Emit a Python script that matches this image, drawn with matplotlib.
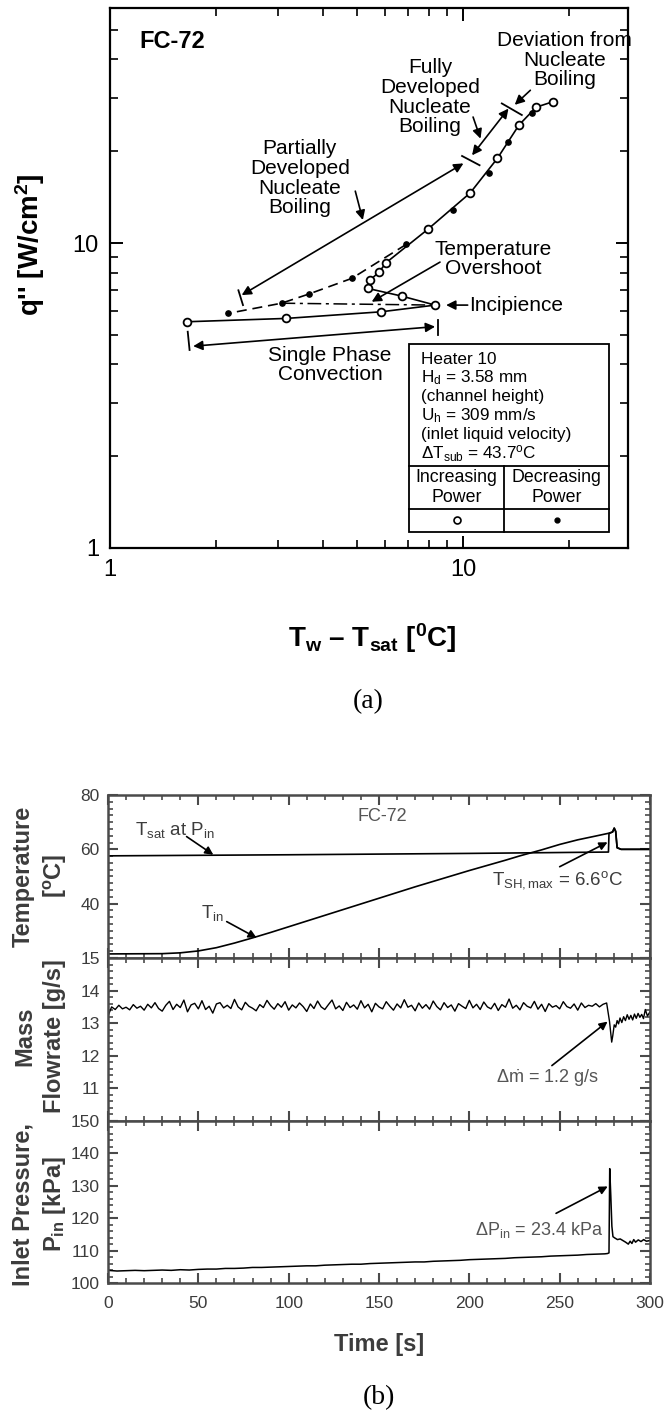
import numpy as np
import matplotlib
matplotlib.use('Agg')
import matplotlib.pyplot as plt
from matplotlib.patches import Rectangle
from matplotlib.ticker import MultipleLocator, FixedLocator, NullFormatter, LogLocator

plt.rcParams['font.family'] = ['Liberation Sans', 'DejaVu Sans']
plt.rcParams['mathtext.fontset'] = 'custom'
plt.rcParams['mathtext.rm'] = 'Liberation Sans'
plt.rcParams['mathtext.it'] = 'Liberation Sans:italic'
plt.rcParams['mathtext.bf'] = 'Liberation Sans:bold'
NARROW = ['Liberation Sans Narrow', 'Liberation Sans', 'DejaVu Sans']

# ---- (a) boiling curve, FC-72, heater 10 ----
inc_x = [1.65, 3.15, 5.85, 8.33, 6.70, 5.37, 5.45, 5.79, 6.05, 7.94, 10.47, 12.5, 14.4, 16.1, 18.0]
inc_y = [5.52, 5.66, 5.95, 6.26, 6.70, 7.10, 7.56, 8.05, 8.62, 11.09, 14.6, 18.95, 24.4, 27.9, 29.1]
dec_x = [15.65, 13.4, 11.8, 9.35, 6.90, 4.84, 3.65, 3.06, 2.16]
dec_y = [26.6, 21.5, 17.0, 12.8, 9.9, 7.66, 6.80, 6.35, 5.88]
dashdot_x = [3.06, 8.33]
dashdot_y = [6.35, 6.26]

# ---- (b) transient at incipience ----
t_temp = [0, 30, 40, 50, 60, 70, 80, 90, 100, 110, 120, 130, 140, 150, 160, 170, 180, 190,
          200, 210, 220, 228, 240, 250, 260, 270, 277, 278.5, 279.3, 280.2, 281.0, 281.8, 284, 300]
T_in = [21.5, 21.6, 21.9, 22.6, 23.8, 25.5, 27.4, 29.4, 31.5, 33.6, 35.7, 37.8, 39.9, 42.0, 44.1,
        46.2, 48.2, 50.2, 52.2, 54.1, 56.0, 57.6, 59.8, 61.8, 63.5, 64.9, 65.9, 66.2, 66.4, 67.8,
        66.6, 60.6, 60.0, 60.0]
t_sat = [0, 100, 200, 277, 277.3, 278.5, 279.3, 280.2, 281.0, 281.8, 284, 300]
T_sat = [57.6, 58.0, 58.5, 59.0, 65.8, 66.2, 66.4, 67.8, 66.6, 60.6, 60.0, 60.0]

mass_t = list(range(0, 277, 2)) + [277.6, 278.2, 278.8, 279.4, 280.2, 281.0, 281.8, 282.6, 283.4,
                                   284.4, 285.4, 286.4, 287.4, 288.4, 289.4, 290.4, 291.4, 292.4,
                                   293.4, 294.4, 295.4, 296.4, 297.4, 298.6, 300]
mass_flow = [
    13.22, 13.50, 13.42, 13.55, 13.44, 13.49, 13.41, 13.57, 13.46, 13.52,
    13.40, 13.58, 13.47, 13.63, 13.45, 13.37, 13.55, 13.67, 13.42, 13.58,
    13.48, 13.71, 13.35, 13.56, 13.61, 13.44, 13.69, 13.42, 13.52, 13.31,
    13.59, 13.63, 13.47, 13.55, 13.45, 13.73, 13.50, 13.41, 13.64, 13.52,
    13.46, 13.38, 13.57, 13.48, 13.70, 13.54, 13.43, 13.60, 13.49, 13.66,
    13.40, 13.56, 13.47, 13.62, 13.51, 13.36, 13.59, 13.45, 13.68, 13.50,
    13.42, 13.57, 13.71, 13.44, 13.53, 13.39, 13.64, 13.48, 13.56, 13.43,
    13.69, 13.47, 13.58, 13.35, 13.61, 13.50, 13.44, 13.66, 13.52, 13.40,
    13.59, 13.47, 13.72, 13.49, 13.55, 13.38, 13.62, 13.46, 13.57, 13.43,
    13.68, 13.51, 13.41, 13.63, 13.48, 13.56, 13.37, 13.60, 13.52, 13.45,
    13.70, 13.47, 13.58, 13.42, 13.65, 13.50, 13.44, 13.61, 13.39, 13.57,
    13.49, 13.74, 13.46, 13.55, 13.41, 13.63, 13.52, 13.47, 13.67, 13.43,
    13.58, 13.36, 13.60, 13.49, 13.54, 13.44, 13.66, 13.51, 13.46, 13.59,
    13.40, 13.62, 13.48, 13.55, 13.52, 13.60, 13.50, 13.58, 13.62,
    13.05, 12.75, 12.42, 12.62, 12.95, 12.88, 13.08, 12.98, 13.16, 13.02,
    13.20, 13.08, 13.26, 13.12, 13.24, 13.10, 13.28, 13.15, 13.30, 13.18,
    13.27, 13.14, 13.42, 13.22, 13.35]

p_t = list(range(0, 276, 5)) + [276.5, 277.3, 277.7, 278.3, 278.9, 279.5, 280.5, 282, 283.5, 285,
                                286.5, 288, 289, 290, 291, 292, 293.5, 295, 296.5, 298, 300]
p_in = [103.9, 103.7, 103.8, 103.9, 103.8, 103.9, 104.0, 103.9, 104.1, 104.0,
        104.2, 104.3, 104.3, 104.5, 104.5, 104.6, 104.8, 104.8, 104.9, 105.0,
        105.1, 105.2, 105.3, 105.3, 105.5, 105.6, 105.7, 105.8, 105.8, 106.0,
        106.1, 106.2, 106.3, 106.4, 106.5, 106.5, 106.7, 106.8, 106.9, 107.0,
        107.2, 107.3, 107.4, 107.5, 107.6, 107.8, 107.9, 108.0, 108.1, 108.3,
        108.4, 108.5, 108.6, 108.8, 108.9, 109.0,
        109.1, 109.3, 135.3, 127.0, 117.5, 114.3, 113.9, 113.4, 113.6, 113.1,
        112.6, 112.0, 112.9, 112.2, 113.4, 112.6, 113.3, 112.8, 113.4, 112.9, 113.1]

W, H = 668, 1416
fig = plt.figure(figsize=(W / 100, H / 100), dpi=100)


def box(l, t, r, b):
    return [l / W, 1 - b / H, (r - l) / W, (b - t) / H]


# ================= (a) =================
ax = fig.add_axes(box(110, 8, 628, 548))
ax.set_xscale('log')
ax.set_yscale('log')
ax.set_xlim(1, 29.3)
ax.set_ylim(1, 59)
ax.xaxis.set_major_locator(FixedLocator([1, 10]))
ax.yaxis.set_major_locator(FixedLocator([1, 10]))
ax.set_xticklabels(['1', '10'])
ax.set_yticklabels(['1', '10'])
ax.xaxis.set_minor_locator(LogLocator(subs=range(2, 10)))
ax.yaxis.set_minor_locator(LogLocator(subs=range(2, 10)))
ax.xaxis.set_minor_formatter(NullFormatter())
ax.yaxis.set_minor_formatter(NullFormatter())
ax.tick_params(which='both', direction='in', top=True, right=True, color='k')
ax.tick_params(which='major', length=9, width=1.4, labelsize=17, pad=8)
ax.tick_params(which='minor', length=5.5, width=1.2)
for s in ax.spines.values():
    s.set_linewidth(1.6)

ax.plot(dec_x[4:], dec_y[4:], color='k', lw=1.2, dashes=(6, 3.5), zorder=2)
ax.plot(dashdot_x, dashdot_y, color='k', lw=1.1, dashes=(9, 3, 2, 3), zorder=2)
ax.plot(dec_x, dec_y, 'o', color='k', ms=3.8, zorder=3)
ax.plot(inc_x, inc_y, '-', color='k', lw=1.2, marker='o', mfc='white', mec='k',
        ms=5.6, mew=1.3, zorder=4)

ap2 = dict(arrowstyle='<|-|>', color='k', lw=1.2, mutation_scale=14, shrinkA=0, shrinkB=0)
ap1 = dict(arrowstyle='-|>', color='k', lw=1.2, mutation_scale=14, shrinkA=0, shrinkB=0)
FS = 15

# partially developed nucleate boiling
ax.annotate('', xy=(2.36, 6.75), xytext=(10.02, 18.25), arrowprops=ap2)
ax.plot([2.31, 2.38], [7.0, 6.26], color='k', lw=1.3)
ax.plot([9.93, 11.13], [19.3, 18.0], color='k', lw=1.3)
ax.text(3.45, 16.3, 'Partially\nDeveloped\nNucleate\nBoiling', ha='center', va='center',
        fontsize=FS, linespacing=1.05)
ax.annotate('', xy=(5.2, 11.9), xytext=(4.95, 14.8), arrowprops=ap1)

# fully developed nucleate boiling
ax.annotate('', xy=(10.6, 19.4), xytext=(13.44, 27.6), arrowprops=ap2)
ax.plot([12.87, 14.66], [28.7, 26.3], color='k', lw=1.3)
ax.text(8.06, 30.1, 'Fully\nDeveloped\nNucleate\nBoiling', ha='center', va='center',
        fontsize=FS, linespacing=1.05)
ax.annotate('', xy=(11.2, 22.0), xytext=(10.67, 25.9), arrowprops=ap1)

# deviation from nucleate boiling
ax.text(19.4, 39.8, 'Deviation from\nNucleate\nBoiling', ha='center', va='center',
        fontsize=FS, linespacing=1.05)
ax.annotate('', xy=(14.0, 28.4), xytext=(15.5, 31.7), arrowprops=ap1)

# temperature overshoot / incipience
ax.text(12.16, 8.86, 'Temperature\nOvershoot', ha='center', va='center', fontsize=FS,
        linespacing=1.05)
ax.annotate('', xy=(5.51, 6.42), xytext=(8.6, 8.66), arrowprops=ap1)
ax.annotate('', xy=(8.95, 6.26), xytext=(10.3, 6.26), arrowprops=ap1)
ax.text(10.4, 6.26, 'Incipience', ha='left', va='center', fontsize=FS)

# single phase convection
ax.annotate('', xy=(1.72, 4.59), xytext=(8.33, 5.32), arrowprops=ap2)
ax.plot([1.66, 1.68], [5.12, 4.46], color='k', lw=1.3)
ax.plot([8.5, 8.5], [5.6, 5.0], color='k', lw=1.3)
ax.text(4.2, 3.98, 'Single Phase\nConvection', ha='center', va='center', fontsize=FS,
        linespacing=1.05)

ax.text(1.21, 45.7, 'FC-72', ha='left', va='center', fontsize=17, fontweight='bold')

# info table
x0, x1, xm = 0.578, 0.964, 0.761
y0, y1, ya, yb = 0.0302, 0.378, 0.152, 0.0722
ax.add_patch(Rectangle((x0, y0), x1 - x0, y1 - y0, transform=ax.transAxes, fill=False,
                       lw=1.3, ec='k', zorder=5))
ax.plot([x0, x1], [ya, ya], color='k', lw=1.3, transform=ax.transAxes)
ax.plot([x0, x1], [yb, yb], color='k', lw=1.3, transform=ax.transAxes)
ax.plot([xm, xm], [y0, ya], color='k', lw=1.3, transform=ax.transAxes)
info = ['Heater 10', r'H$_\mathrm{d}$ = 3.58 mm', '(channel height)',
        r'U$_\mathrm{h}$ = 309 mm/s', '(inlet liquid velocity)',
        r'$\Delta$T$_\mathrm{sub}$ = 43.7$^\mathrm{o}$C']
for i, line in enumerate(info):
    ax.text(0.600, 0.3494 - i * 0.0348, line, transform=ax.transAxes, ha='left',
            va='center', fontsize=12.3)
ax.text((x0 + xm) / 2, (ya + yb) / 2, 'Increasing\nPower', transform=ax.transAxes,
        ha='center', va='center', fontsize=12.8, linespacing=1.2)
ax.text((xm + x1) / 2, (ya + yb) / 2, 'Decreasing\nPower', transform=ax.transAxes,
        ha='center', va='center', fontsize=12.8, linespacing=1.2)
ax.plot([(x0 + xm) / 2], [(yb + y0) / 2], 'o', mfc='white', mec='k', ms=5, mew=1.2,
        transform=ax.transAxes)
ax.plot([(xm + x1) / 2], [(yb + y0) / 2], 'o', color='k', ms=3.5, transform=ax.transAxes)

fig.text(30 / W, 1 - 245 / H, "q'' [W/cm$^\\mathbf{2}$]", rotation=90, ha='center',
         va='center', fontsize=20, fontweight='bold', family=NARROW)
fig.text(372 / W, 1 - 638 / H, r'T$_\mathbf{w}$ – T$_\mathbf{sat}$ [$^\mathbf{0}$C]',
         ha='center', va='center', fontsize=20, fontweight='bold', family=NARROW)
fig.text(368 / W, 1 - 702 / H, '(a)', ha='center', va='center', fontsize=20,
         family=['Liberation Serif', 'DejaVu Serif'])

# ================= (b) =================
GRAY = '#4a4a4a'
TXT = '#3c3c3c'
axT = fig.add_axes(box(108, 795, 650, 958))
axM = fig.add_axes(box(108, 958, 650, 1121), sharex=axT)
axP = fig.add_axes(box(108, 1121, 650, 1283), sharex=axT)

for a in (axT, axM, axP):
    for s in a.spines.values():
        s.set_linewidth(1.8)
        s.set_color(GRAY)
    a.tick_params(which='both', direction='in', top=True, right=True, color=GRAY,
                  labelcolor=TXT, labelsize=12.5)
    a.tick_params(which='major', length=7, width=1.5)
    a.tick_params(which='minor', length=3.5, width=1.2)
    a.tick_params(axis='y', pad=6)
    a.xaxis.set_major_locator(MultipleLocator(50))
    a.xaxis.set_minor_locator(MultipleLocator(10))

axT.set_xlim(0, 300)
axT.tick_params(labelbottom=False)
axM.tick_params(labelbottom=False)
axP.tick_params(axis='x', pad=9)

axT.set_ylim(20, 80)
axT.set_yticks([20, 40, 60, 80])
axT.set_yticklabels(['', '40', '60', '80'])
axT.yaxis.set_minor_locator(MultipleLocator(2.5))

axM.set_ylim(10, 15)
axM.set_yticks([10, 11, 12, 13, 14, 15])
axM.set_yticklabels(['', '11', '12', '13', '14', '15'])
axM.yaxis.set_minor_locator(MultipleLocator(0.2))

axP.set_ylim(100, 150)
axP.set_yticks([100, 110, 120, 130, 140, 150])
axP.yaxis.set_minor_locator(MultipleLocator(2))

axT.plot(t_sat, T_sat, color='k', lw=1.2)
axT.plot(t_temp, T_in, color='k', lw=1.2)
axM.plot(mass_t, mass_flow, color='k', lw=1.0)
axP.plot(p_t, p_in, color='k', lw=1.1)

ap = dict(arrowstyle='-|>', color='k', lw=1.2, mutation_scale=12, shrinkA=0, shrinkB=0)
axT.text(152, 72, 'FC-72', ha='center', va='center', fontsize=13, color='#555555')
axT.text(14.9, 67.1, r'T$_\mathrm{sat}$ at P$_\mathrm{in}$', ha='left', va='center',
         fontsize=13.5, color=TXT)
axT.annotate('', xy=(58.3, 58.0), xytext=(43.5, 64.7), arrowprops=ap)
axT.text(58.1, 36.6, r'T$_\mathrm{in}$', ha='center', va='center', fontsize=13.5, color=TXT)
axT.annotate('', xy=(82.3, 27.4), xytext=(65.7, 33.4), arrowprops=ap)
axT.text(249, 48.7, r'T$_\mathrm{SH,max}$ = 6.6$^\mathrm{o}$C', ha='center', va='center',
         fontsize=13.5, color=TXT)
axT.annotate('', xy=(276.5, 62.6), xytext=(250, 53.6), arrowprops=ap)

axM.text(243.5, 11.32, r'$\Delta\dot{\mathrm{m}}$ = 1.2 g/s', ha='center', va='center',
         fontsize=13, color='#555555')
axM.annotate('', xy=(276.5, 13.05), xytext=(245.7, 11.7), arrowprops=ap)

axP.text(274, 116.5, r'$\Delta$P$_\mathrm{in}$ = 23.4 kPa', ha='right', va='center',
         fontsize=13, color='#555555')
axP.annotate('', xy=(276.6, 129.8), xytext=(248, 121.5), arrowprops=ap)

lab = dict(rotation=90, ha='center', va='center', fontsize=17, fontweight='bold',
           family=NARROW, color=TXT, linespacing=1.35, multialignment='center')
fig.text(40 / W, 1 - 876 / H, 'Temperature\n[$^\\mathbf{o}$C]', **lab)
fig.text(40 / W, 1 - 1036 / H, 'Mass\nFlowrate [g/s]', **lab)
fig.text(40 / W, 1 - 1204 / H, 'Inlet Pressure,\nP$_\\mathbf{in}$ [kPa]', **lab)
fig.text(379 / W, 1 - 1344 / H, 'Time [s]', ha='center', va='center', fontsize=17,
         fontweight='bold', family=NARROW, color=TXT)
fig.text(379 / W, 1 - 1398 / H, '(b)', ha='center', va='center', fontsize=20,
         family=['Liberation Serif', 'DejaVu Serif'])

fig.savefig('out.png', dpi=100, facecolor='white')
